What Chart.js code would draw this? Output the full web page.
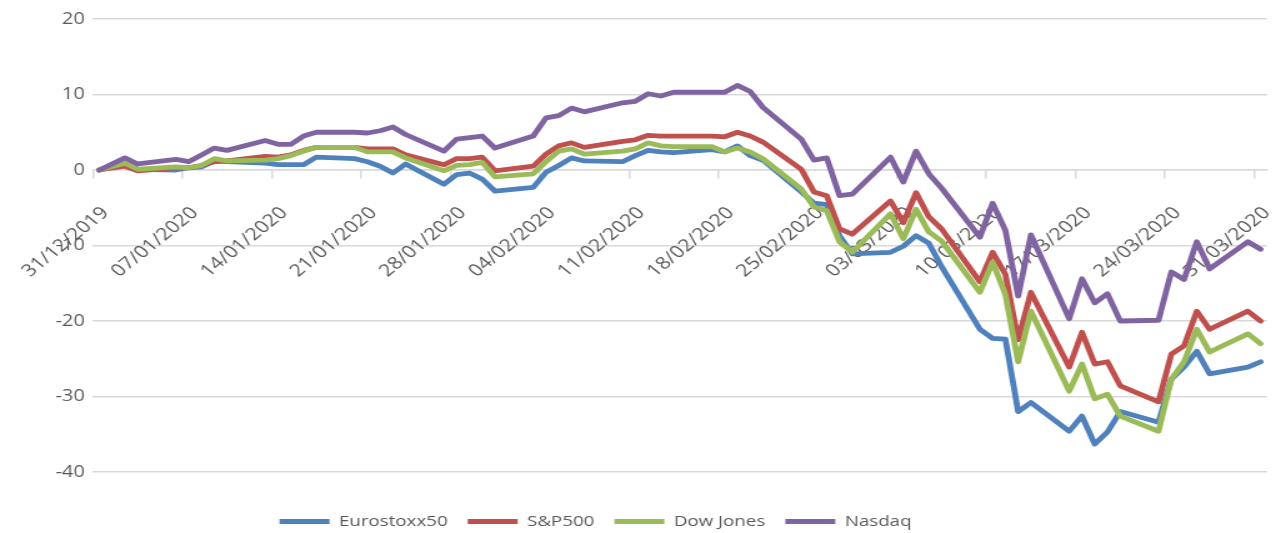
<!DOCTYPE html>
<html>
<head>
<meta charset="utf-8">
<script src="https://cdn.jsdelivr.net/npm/chart.js@4.4.0/dist/chart.umd.min.js"></script>
<style>
  html, body { margin: 0; padding: 0; background: #fff; }
  /* the original picture is a horizontally stretched Excel chart:
     draw at 1021px and stretch to 1276px */
  #chart { width: 1276px; height: 533px; display: block; }
</style>
</head>
<body>
<canvas id="chart" width="1021" height="533" style="width:1276px;height:533px"></canvas>
<script>
// =========================================================
// DATA (trading days, % change since 31/12/2019)
// =========================================================
const dates = [
  "2019-12-31", "2020-01-02", "2020-01-03", "2020-01-06", "2020-01-07", "2020-01-08", "2020-01-09", "2020-01-10",
  "2020-01-13", "2020-01-14", "2020-01-15", "2020-01-16", "2020-01-17", "2020-01-20", "2020-01-21", "2020-01-22",
  "2020-01-23", "2020-01-24", "2020-01-27", "2020-01-28", "2020-01-29", "2020-01-30", "2020-01-31", "2020-02-03",
  "2020-02-04", "2020-02-05", "2020-02-06", "2020-02-07", "2020-02-10", "2020-02-11", "2020-02-12", "2020-02-13",
  "2020-02-14", "2020-02-17", "2020-02-18", "2020-02-19", "2020-02-20", "2020-02-21", "2020-02-24", "2020-02-25",
  "2020-02-26", "2020-02-27", "2020-02-28", "2020-03-02", "2020-03-03", "2020-03-04", "2020-03-05", "2020-03-06",
  "2020-03-09", "2020-03-10", "2020-03-11", "2020-03-12", "2020-03-13", "2020-03-16", "2020-03-17", "2020-03-18",
  "2020-03-19", "2020-03-20", "2020-03-23", "2020-03-24", "2020-03-25", "2020-03-26", "2020-03-27", "2020-03-30",
  "2020-03-31"
];

const eurostoxx = [
  0, 0.8, 0.1, 0.0, 0.3, 0.4, 1.2, 1.1, 0.9, 0.7, 0.7, 0.7, 1.7, 1.5, 1.1, 0.5,
  -0.4, 0.8, -1.9, -0.6, -0.4, -1.2, -2.8, -2.3, -0.3, 0.6, 1.6, 1.2, 1.1, 1.9, 2.6, 2.4,
  2.3, 2.7, 2.4, 3.2, 1.9, 1.3, -2.9, -4.4, -4.6, -8.7, -11.1, -10.9, -10.1, -8.7, -9.7, -12.8,
  -21.1, -22.3, -22.4, -32.0, -30.8, -34.6, -32.6, -36.3, -34.7, -32.0, -33.4, -27.7, -26.1, -24.0, -27.0, -26.1,
  -25.4
];

const sp500 = [
  0, 0.5, -0.1, 0.3, 0.3, 0.6, 1.1, 1.2, 1.8, 1.7, 2.0, 2.6, 3.0, 3.0, 2.8, 2.8,
  2.8, 2.0, 0.7, 1.5, 1.5, 1.7, -0.1, 0.5, 2.1, 3.2, 3.6, 3.0, 3.8, 4.0, 4.6, 4.5,
  4.5, 4.5, 4.4, 5.0, 4.5, 3.7, 0.1, -2.9, -3.4, -7.8, -8.5, -4.1, -7.0, -3.0, -6.2, -7.8,
  -14.8, -10.9, -13.8, -22.5, -16.2, -26.1, -21.5, -25.7, -25.4, -28.6, -30.7, -24.4, -23.3, -18.7, -21.1, -18.7,
  -20.0
];

const dowJones = [
  0, 0.9, 0.1, 0.4, 0.3, 0.6, 1.5, 1.2, 1.3, 1.5, 1.9, 2.5, 3.0, 3.0, 2.4, 2.4,
  2.4, 1.6, -0.1, 0.6, 0.7, 1.0, -0.9, -0.5, 1.1, 2.5, 2.8, 2.1, 2.5, 2.8, 3.6, 3.2,
  3.1, 3.1, 2.4, 2.9, 2.4, 1.5, -2.5, -4.9, -5.4, -9.5, -10.9, -5.8, -9.1, -5.2, -8.2, -9.4,
  -16.2, -12.2, -16.5, -25.4, -18.7, -29.3, -25.7, -30.3, -29.7, -32.6, -34.6, -27.7, -25.4, -21.1, -24.1, -21.7,
  -23.0
];

const nasdaq = [
  0, 1.6, 0.8, 1.4, 1.1, 2.0, 2.9, 2.6, 3.9, 3.4, 3.4, 4.5, 5.0, 5.0, 4.9, 5.2,
  5.7, 4.7, 2.5, 4.1, 4.3, 4.5, 2.9, 4.5, 6.9, 7.2, 8.2, 7.7, 8.9, 9.1, 10.1, 9.8,
  10.3, 10.3, 10.3, 11.2, 10.4, 8.3, 4.1, 1.3, 1.6, -3.4, -3.2, 1.7, -1.6, 2.5, -0.5, -2.4,
  -8.9, -4.4, -8.0, -16.7, -8.6, -19.7, -14.4, -17.6, -16.4, -20.0, -19.9, -13.5, -14.5, -9.5, -13.1, -9.5,
  -10.5
];

const tickLabels = [
  "31/12/2019", "07/01/2020", "14/01/2020", "21/01/2020", "28/01/2020", "04/02/2020", "11/02/2020",
  "18/02/2020", "25/02/2020", "03/03/2020", "10/03/2020", "17/03/2020", "24/03/2020", "31/03/2020"
];

const seriesNames = ["Eurostoxx50", "S&P500", "Dow Jones", "Nasdaq"];
const seriesColors = ["#4F81BD", "#C0504D", "#9BBB59", "#8064A2"];

// =========================================================
// HELPERS
// =========================================================
const DAY_MS = 24 * 3600 * 1000;
const startMs = Date.UTC(2019, 11, 31);

// days since 31/12/2019
function dayIndex(iso) {
  const [y, m, d] = iso.split("-").map(Number);
  return Math.round((Date.UTC(y, m - 1, d) - startMs) / DAY_MS);
}

const xDays = dates.map(dayIndex);

function toPoints(values) {
  return values.map((v, i) => ({ x: xDays[i], y: v }));
}

const FONT = "'Open Sans', sans-serif";
const TEXT = "#595959";
const GRID = "#d9d9d9";

// legend sits lower and a bit left of Chart.js' default spot
const legendShift = {
  id: "legendShift",
  afterLayout(chart) {
    const l = chart.legend;
    if (!l) return;
    l.left -= 34;
    l.right -= 34;
    l.top += 26;
    l.bottom += 26;
  }
};

// =========================================================
// CHART
// =========================================================
const allSeries = [eurostoxx, sp500, dowJones, nasdaq];

const datasets = allSeries.map((values, i) => ({
  label: seriesNames[i],
  data: toPoints(values),
  borderColor: seriesColors[i],
  backgroundColor: seriesColors[i],
  borderWidth: 4.8,
  borderCapStyle: "round",
  borderJoinStyle: "round",
  pointRadius: 0,
  tension: 0,
  order: allSeries.length - i   // later series drawn on top
}));

new Chart(document.getElementById("chart"), {
  type: "line",
  data: { datasets },
  plugins: [legendShift],
  options: {
    responsive: false,
    animation: false,
    layout: { autoPadding: false, padding: { top: 19, right: 0, bottom: 20, left: 0 } },
    plugins: {
      tooltip: { enabled: false },
      legend: {
        position: "bottom",
        labels: {
          usePointStyle: true,
          pointStyle: "line",
          pointStyleWidth: 40,
          color: TEXT,
          font: { family: FONT, size: 15 },
          padding: 16,
          sort: (a, b) => a.datasetIndex - b.datasetIndex
        }
      }
    },
    scales: {
      x: {
        type: "linear",
        position: { y: 0 },
        min: -0.5,
        max: 91.5,
        // axis is drawn across the plot at y = 0, so it takes no layout room
        afterFit: scale => { scale.height = 0; },
        afterBuildTicks: scale => {
          scale.ticks = tickLabels.map((_, i) => ({ value: i * 7 - 0.5 }));
        },
        ticks: {
          autoSkip: false,
          minRotation: 45,
          maxRotation: 45,
          labelOffset: 10,
          color: TEXT,
          font: { family: FONT, size: 17 },
          callback: (value, index) => tickLabels[index]
        },
        // long tick length pushes the labels down, the dash keeps the visible mark short
        grid: {
          drawOnChartArea: false,
          color: GRID,
          lineWidth: 1.5,
          tickLength: 30,
          tickBorderDash: [8, 60]
        },
        border: { color: GRID, width: 1.5 }
      },
      y: {
        min: -40,
        max: 20,
        afterFit: scale => { scale.width = 74.4; },
        ticks: {
          stepSize: 10,
          padding: 6.5,
          color: TEXT,
          font: { family: FONT, size: 16 }
        },
        grid: { color: GRID, lineWidth: 1.5, drawTicks: false },
        border: { display: false }
      }
    }
  }
});
</script>
</body>
</html>
